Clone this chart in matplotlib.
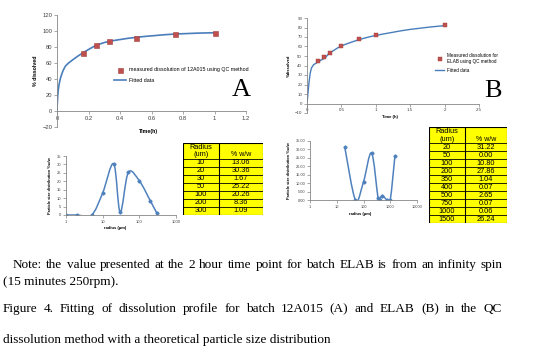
import numpy as np
import matplotlib
matplotlib.use('Agg')
from matplotlib import pyplot as plt
from matplotlib.path import Path
from matplotlib.patches import PathPatch, Rectangle

W, H = 559, 355          # output size in pixels
RED = '#C0504D'
BLUE = '#4A7EBB'
AXC = '#868686'
TXT = '#404040'

# ---------------------------------------------------------------------------
# DATA
# ---------------------------------------------------------------------------
# panel A: batch 12A015
a_time = [0.167, 0.25, 0.333, 0.5, 0.75, 1.0]
a_diss = [72.5, 82.0, 87.0, 91.5, 96.5, 97.5]
a_fit_time = [0, 0.005, 0.015, 0.03, 0.045, 0.06, 0.1, 0.167, 0.25, 0.333, 0.5, 0.75, 1.0]
a_fit_diss = [0, 20, 35, 46, 53, 57.5, 64, 73, 82, 87, 92, 96.2, 97.8]

# panel B: batch ELAB
b_time = [0.167, 0.25, 0.333, 0.5, 0.75, 1.0, 2.0]
b_diss = [44.5, 48.5, 53.5, 60.5, 67.5, 72.0, 83.0]
b_fit_time = [0, 0.058, 0.17, 0.26, 0.33, 0.5, 0.75, 1.0, 1.5, 2.0]
b_fit_diss = [0, 35.5, 44, 48, 53, 60.5, 67, 71.6, 78, 82]

# particle size distributions
psd_a_plot_r = [1, 2, 5, 10, 20, 30, 50, 100, 200, 300]
psd_a_plot_w = [0, 0, 0, 13.06, 30.36, 1.67, 25.22, 20.26, 8.36, 1.09]
psd_a_radius = ['10', '20', '30', '50', '100', '200', '300']
psd_a_ww = ['13.06', '30.36', '1.67', '25.22', '20.26', '8.36', '1.09']

psd_b_radius = [20, 50, 100, 200, 350, 400, 500, 750, 1000, 1500]
psd_b_ww = [31.22, 0.00, 10.80, 27.86, 1.04, 0.07, 2.65, 0.07, 0.06, 26.24]

note_line1 = 'Note: the value presented at the 2 hour time point for batch ELAB is from an infinity spin'
note_line2 = '(15 minutes 250rpm).'
cap_line1 = 'Figure 4. Fitting of dissolution profile for batch 12A015 (A) and ELAB (B) in the QC'
cap_line2 = 'dissolution method with a theoretical particle size distribution'


def px_axes(fig, left, right, top, bottom):
    return fig.add_axes([left / W, 1 - bottom / H, (right - left) / W, (bottom - top) / H])


# smooth line like excel does (catmull-rom -> bezier)
def smooth_path(x, y, logx=False):
    u = np.log10(x) if logx else np.asarray(x, float)
    v = np.asarray(y, float)
    n = len(u)
    verts = [(u[0], v[0])]
    codes = [Path.MOVETO]
    for i in range(n - 1):
        a = i - 1 if i > 0 else i
        d = i + 2 if i + 2 < n else i + 1
        c1 = (u[i] + (u[i + 1] - u[a]) / 6, v[i] + (v[i + 1] - v[a]) / 6)
        c2 = (u[i + 1] - (u[d] - u[i]) / 6, v[i + 1] - (v[d] - v[i]) / 6)
        verts += [c1, c2, (u[i + 1], v[i + 1])]
        codes += [Path.CURVE4] * 3
    verts = np.array(verts)
    if logx:
        verts[:, 0] = 10 ** verts[:, 0]
    return Path(verts, codes)


def style_axes(ax, fs=3.6):
    for s in ['top', 'right']:
        ax.spines[s].set_visible(False)
    for s in ['left', 'bottom']:
        ax.spines[s].set_color(AXC)
        ax.spines[s].set_linewidth(0.6)
    ax.tick_params(labelsize=fs, colors=AXC, labelcolor=TXT, length=2, width=0.5, pad=1.5)
    ax.minorticks_off()
    ax.patch.set_alpha(0)


plt.rcParams['font.family'] = ['Liberation Sans', 'DejaVu Sans']
fig = plt.figure(figsize=(W / 100, H / 100), dpi=100)

# ===========================================================================
# A
# ===========================================================================
ax = px_axes(fig, 57, 246, 15, 127)
ax.add_patch(PathPatch(smooth_path(a_fit_time, a_fit_diss), fill=False, ec=BLUE, lw=1.2))
ax.plot(a_time, a_diss, 's', color=RED, mec='#A0403D', mew=0.4, ms=3.6, ls='none',
        label='measured dissolution of 12A015 using QC method')
ax.plot([], [], color=BLUE, lw=1.2, label='Fitted data')
ax.set_xlim(0, 1.2)
ax.set_ylim(-20, 120)
ax.spines['bottom'].set_position(('data', 0))
xt = [0, 0.2, 0.4, 0.6, 0.8, 1.0, 1.2]
ax.set_xticks(xt, labels=[f'{t:g}' for t in xt])
ax.set_yticks(range(-20, 121, 20))
style_axes(ax, fs=4.2)
ax.set_ylabel('% dissolved', fontsize=3.8, fontweight='bold', labelpad=3)
fig.text(148 / W, 1 - 132 / H, 'Time(h)', fontsize=3.8, fontweight='bold', ha='center', va='center')
ax.legend(loc='center left', bbox_to_anchor=(111 / W, 1 - 75 / H), bbox_transform=fig.transFigure,
          frameon=False, fontsize=3.8, handlelength=2.4, handletextpad=0.6, labelspacing=1.0,
          borderpad=0)
fig.text(241 / W, 1 - 90 / H, 'A', family='Liberation Serif', fontsize=19, ha='center', va='center')

# ===========================================================================
# B
# ===========================================================================
ax = px_axes(fig, 307, 479, 18, 113)
ax.add_patch(PathPatch(smooth_path(b_fit_time, b_fit_diss), fill=False, ec=BLUE, lw=1.0))
ax.plot(b_time, b_diss, 's', color=RED, mec='#A0403D', mew=0.3, ms=2.8, ls='none',
        label='Measured dissolution for\nELAB using QC method')
ax.plot([], [], color=BLUE, lw=1.0, label='Fitted data')
ax.set_xlim(0, 2.5)
ax.set_ylim(-10, 90)
ax.spines['bottom'].set_position(('data', 0))
xt = [0, 0.5, 1, 1.5, 2, 2.5]
ax.set_xticks(xt, labels=[f'{t:g}' for t in xt])
ax.set_yticks(range(-10, 91, 10))
style_axes(ax, fs=3.2)
ax.set_ylabel('%dissolved', fontsize=3.0, fontweight='bold', labelpad=3)
fig.text(390 / W, 1 - 117 / H, 'Time (h)', fontsize=3.0, fontweight='bold', ha='center', va='center')
ax.legend(loc='center left', bbox_to_anchor=(433 / W, 1 - 63 / H), bbox_transform=fig.transFigure,
          frameon=False, fontsize=3.3, handlelength=2.0, handletextpad=0.5, labelspacing=0.8,
          borderpad=0)
fig.text(493 / W, 1 - 91 / H, 'B', family='Liberation Serif', fontsize=19, ha='center', va='center')

# ===========================================================================
# particle size distributions
# ===========================================================================
ax = px_axes(fig, 66, 176, 156, 215)
ax.set_xscale('log')
ax.add_patch(PathPatch(smooth_path(psd_a_plot_r, psd_a_plot_w, logx=True), fill=False,
                       ec='#4F81BD', lw=1.1))
ax.plot(psd_a_plot_r, psd_a_plot_w, 'D', color='#4F81BD', ms=1.6, ls='none')
ax.set_xlim(1, 1000)
ax.set_ylim(0, 35)
xt = [1, 10, 100, 1000]
ax.set_xticks(xt, labels=[str(t) for t in xt])
ax.set_yticks(range(0, 36, 5))
style_axes(ax, fs=3.0)
ax.minorticks_off()
ax.set_ylabel('Particle size distribution %w/w', fontsize=2.8, fontweight='bold', labelpad=3)
fig.text(115 / W, 1 - 228 / H, 'radius (\u00b5m)', fontsize=3.0, fontweight='bold', ha='center', va='center')

ax = px_axes(fig, 310, 417, 141, 200)
ax.set_xscale('log')
ax.add_patch(PathPatch(smooth_path(psd_b_radius, psd_b_ww, logx=True), fill=False,
                       ec='#4F81BD', lw=1.1))
ax.plot(psd_b_radius, psd_b_ww, 'D', color='#4F81BD', ms=1.6, ls='none')
ax.set_xlim(1, 10000)
ax.set_ylim(0, 35)
xt = [1, 10, 100, 1000, 10000]
ax.set_xticks(xt, labels=[str(t) for t in xt])
yt = list(range(0, 36, 5))
ax.set_yticks(yt, labels=[f'{t:.2f}' for t in yt])
style_axes(ax, fs=2.8)
ax.minorticks_off()
ax.set_ylabel('Particle size distribution %w/w', fontsize=2.8, fontweight='bold', labelpad=3)
fig.text(360 / W, 1 - 214 / H, 'radius (\u00b5m)', fontsize=3.0, fontweight='bold', ha='center', va='center')


# yellow excel tables
def draw_table(left, right, top, bottom, split, radius, ww):
    tax = px_axes(fig, left, right, top, bottom)
    n = len(radius)
    tot = n + 2
    sx = (split - left) / (right - left)
    tax.set_xlim(0, 1)
    tax.set_ylim(tot, 0)
    tax.axis('off')
    tax.add_patch(Rectangle((0, 0), 1, tot, fc='#FFFF00', ec='black', lw=0.8))
    tax.plot([sx, sx], [0, tot], color='black', lw=0.8)
    for i in range(n + 1):
        tax.plot([0, 1], [2 + i, 2 + i], color='black', lw=0.6)
    tax.text(sx / 2, 0.55, 'Radius', fontsize=5.3, ha='center', va='center')
    tax.text(sx / 2, 1.5, '(um)', fontsize=5.3, ha='center', va='center')
    tax.text((1 + sx) / 2, 1.5, '% w/w', fontsize=5.0, ha='center', va='center')
    for i, (r, w) in enumerate(zip(radius, ww)):
        tax.text(sx / 2, 2.5 + i, r, fontsize=5.3, ha='center', va='center')
        tax.text((1 + sx) / 2, 2.5 + i, w, fontsize=5.3, ha='center', va='center')


draw_table(183, 263, 143, 215, 219, psd_a_radius, psd_a_ww)
draw_table(429, 507, 127, 223, 465, [str(r) for r in psd_b_radius], [f'{w:.2f}' for w in psd_b_ww])


# ===========================================================================
# caption text (justified lines)
# ===========================================================================
CAP_FS = 9.5


def justified(line, x0, x1, y, fs=CAP_FS):
    words = line.split(' ')
    texts = [fig.text(0, 1 - y / H, w, family='Liberation Serif', fontsize=fs, va='center')
             for w in words]
    r = fig.canvas.get_renderer()
    widths = [t.get_window_extent(r).width for t in texts]
    gap = (x1 - x0 - sum(widths)) / (len(words) - 1)
    x = x0
    for t, w in zip(texts, widths):
        t.set_x(x / W)
        x += w + gap


justified(note_line1, 13, 503, 265)
fig.text(3 / W, 1 - 282 / H, note_line2, family='Liberation Serif', fontsize=CAP_FS, va='center')
justified(cap_line1, 3, 502, 309)
fig.text(3 / W, 1 - 340 / H, cap_line2, family='Liberation Serif', fontsize=CAP_FS, va='center')

fig.savefig('out.png', dpi=100)
